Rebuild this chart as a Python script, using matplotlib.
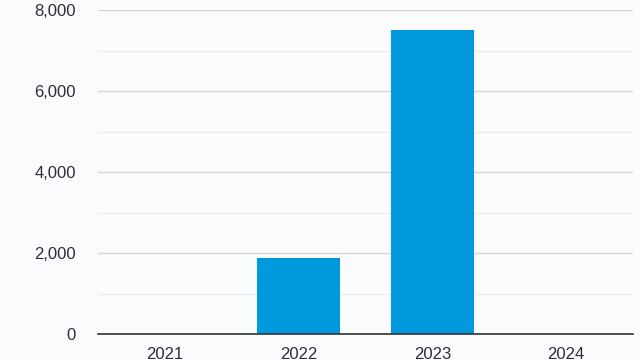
import matplotlib.pyplot as plt
from matplotlib.ticker import FuncFormatter, MultipleLocator

anios = ["2021", "2022", "2023", "2024"]
valores = [0, 1880, 7500, 0]

plt.rcParams["font.family"] = ["Liberation Sans", "DejaVu Sans"]

fondo = "#fafbfd"
texto = "#2e2c3a"

fig = plt.figure(figsize=(6.4, 3.6), dpi=100, facecolor=fondo)
ax = fig.add_axes([0.153, 0.0722, 0.836, 0.9])
ax.set_facecolor(fondo)

x = range(len(anios))
ax.bar(x, valores, width=0.62, color="#0099dd", zorder=3)

ax.set_xlim(-0.5, len(anios) - 0.5)
ax.set_ylim(0, 8000)
ax.yaxis.set_major_locator(MultipleLocator(2000))
ax.yaxis.set_minor_locator(MultipleLocator(1000))
ax.yaxis.set_major_formatter(FuncFormatter(lambda v, p: f"{int(v):,}"))
ax.set_xticks(list(x))
ax.set_xticklabels(anios)

ax.grid(axis="y", which="major", color="#d6d6d8", linewidth=1, zorder=0)
ax.grid(axis="y", which="minor", color="#ececee", linewidth=1, zorder=0)

for lado in ["top", "right", "left"]:
    ax.spines[lado].set_visible(False)
ax.spines["bottom"].set_color("#333333")
ax.spines["bottom"].set_linewidth(1.2)
ax.spines["bottom"].set_zorder(4)

ax.tick_params(axis="both", which="both", length=0, labelsize=12, colors=texto)
ax.tick_params(axis="y", pad=16)
ax.tick_params(axis="x", pad=9)

fig.savefig("out.png", dpi=100, facecolor=fondo)
